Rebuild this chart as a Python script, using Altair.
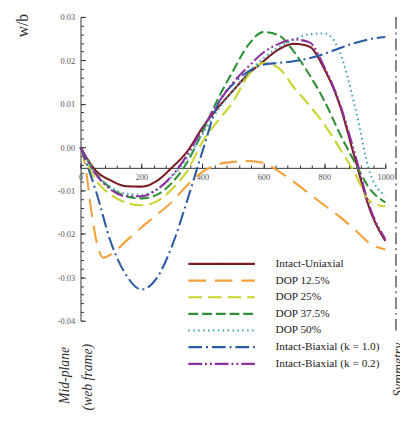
import altair as alt
import pandas as pd

# ---------------- data ----------------
series_names = [
    "Intact-Uniaxial",
    "DOP 12.5%",
    "DOP 25%",
    "DOP 37.5%",
    "DOP 50%",
    "Intact-Biaxial (k = 1.0)",
    "Intact-Biaxial (k = 0.2)",
]

x_main = [0, 50, 100, 150, 200, 250, 300, 350, 400, 450, 500,
          550, 600, 650, 700, 750, 800, 850, 900, 950, 1000]

x_dop125 = [0, 15, 35, 55, 75, 100, 150, 200, 250, 300, 350, 400, 450,
            500, 550, 600, 650, 700, 750, 800, 850, 900, 950, 1000]

w_uniaxial = [0, -0.0054, -0.0077, -0.0090, -0.0091, -0.0078, -0.0047, -0.0010,
              0.0045, 0.0090, 0.0130, 0.0168, 0.0198, 0.0225, 0.0238, 0.0232,
              0.0180, 0.0098, -0.0025, -0.0145, -0.0216]

w_dop125 = [0, -0.0040, -0.0145, -0.0225, -0.0255, -0.0247, -0.0216, -0.0185,
            -0.0156, -0.0126, -0.0088, -0.0057, -0.0040, -0.0034, -0.0032,
            -0.0036, -0.0056, -0.0080, -0.0107, -0.0134, -0.0160, -0.0190,
            -0.0222, -0.0236]

w_dop25 = [0, -0.0075, -0.0110, -0.0128, -0.0134, -0.0125, -0.0097, -0.0055,
           0.0012, 0.0060, 0.0104, 0.0165, 0.0194, 0.0182, 0.0138, 0.0097,
           0.0052, -0.0002, -0.0060, -0.0125, -0.0137]

w_dop375 = [0, -0.0060, -0.0095, -0.0113, -0.0118, -0.0110, -0.0082, -0.0035,
            0.0035, 0.0110, 0.0175, 0.0235, 0.0265, 0.0258, 0.0220, 0.0168,
            0.0107, 0.0032, -0.0035, -0.0097, -0.0127]

w_dop50 = [0, -0.0062, -0.0092, -0.0107, -0.0110, -0.0098, -0.0068, -0.0025,
           0.0030, 0.0085, 0.0130, 0.0170, 0.0205, 0.0230, 0.0248, 0.0260,
           0.0262, 0.0220, 0.0095, -0.0060, -0.0112]

w_biax10 = [0, -0.0100, -0.0220, -0.0295, -0.0328, -0.0302, -0.0228, -0.0123,
            -0.0010, 0.0098, 0.0145, 0.0174, 0.0190, 0.0194, 0.0198, 0.0205,
            0.0215, 0.0228, 0.0240, 0.0249, 0.0254]

w_biax02 = [0, -0.0062, -0.0098, -0.0113, -0.0113, -0.0098, -0.0066, -0.0018,
            0.0042, 0.0100, 0.0148, 0.0185, 0.0218, 0.0238, 0.0248, 0.0242,
            0.0185, 0.0102, -0.0015, -0.0140, -0.0212]

x_symmetry = 1035

x_major_ticks = [0, 200, 400, 600, 800, 1000]
y_major_ticks = [-0.04, -0.03, -0.02, -0.01, 0.0, 0.01, 0.02, 0.03]

# ---------------- styles ----------------
colors = ["#7a1c22", "#f5a03a", "#c9d42f", "#2f8f35", "#3aa0b5", "#2a5ba3", "#8e2f9c"]
dashes = [[1, 0], [18, 9], [14, 6], [10, 4], [1.5, 3.5], [14, 4, 2, 4], [14, 3, 2, 3, 2, 3]]

series_x = [x_main, x_dop125, x_main, x_main, x_main, x_main, x_main]
series_w = [w_uniaxial, w_dop125, w_dop25, w_dop375, w_dop50, w_biax10, w_biax02]

rows = []
for name, xs_, ws_ in zip(series_names, series_x, series_w):
    for xv, wv in zip(xs_, ws_):
        rows.append({"series": name, "x": xv, "w": wv})
df = pd.DataFrame(rows)

XS = alt.Scale(domain=[0, 1000], nice=False, zero=False)
YS = alt.Scale(domain=[-0.04, 0.03], nice=False, zero=False)

FONT = "Liberation Serif"
AX = "#333333"
LAB = "#555555"

x_major_axis = alt.Axis(
    orient="top", offset=-154, values=x_major_ticks, tickSize=5, tickColor=AX,
    domainColor=AX, domainWidth=1, labelFont=FONT, labelFontSize=8.5,
    labelColor=LAB, labelBaseline="top", labelPadding=-10, labelFlush=False,
    labelOverlap=False, grid=False, title=None, format="d",
)
y_major_axis = alt.Axis(
    orient="right", offset=-311, values=y_major_ticks, tickSize=5, tickColor=AX,
    domainColor=AX, domainWidth=1, labelFont=FONT, labelFontSize=8.5,
    labelColor=LAB, labelAlign="right", labelPadding=-11, labelFlush=False,
    labelOverlap=False, grid=False, title=None,
    labelExpr="replace(format(datum.value, '.2f'), '\u2212', '-')",
)
x_minor_axis = alt.Axis(
    orient="top", offset=-154, values=list(range(0, 1001, 40)), tickSize=3,
    tickColor=AX, domain=False, labels=False, grid=False, title=None,
)
y_minor_axis = alt.Axis(
    orient="right", offset=-311, values=[round(-0.04 + 0.002 * i, 3) for i in range(36)],
    tickSize=3, tickColor=AX, domain=False, labels=False, grid=False, title=None,
)

# long horizontal stroke symbol: path spans 12 units -> 6*sqrt(size) px
leg = alt.Legend(
    orient="none", legendX=137, legendY=245, title=None, symbolType="M-6,0H6",
    symbolSize=128, symbolStrokeWidth=2.2, labelFont=FONT, labelFontSize=11.5,
    labelColor="#222222", labelOffset=48, rowPadding=4, symbolOpacity=1,
)

lines = alt.Chart(df).mark_line(strokeWidth=2.1, interpolate="monotone").encode(
    x=alt.X("x:Q", scale=XS, axis=x_major_axis),
    y=alt.Y("w:Q", scale=YS, axis=y_major_axis),
    color=alt.Color("series:N", scale=alt.Scale(domain=series_names, range=colors), legend=leg),
    strokeDash=alt.StrokeDash("series:N", scale=alt.Scale(domain=series_names, range=dashes), legend=leg),
)

sym_df = pd.DataFrame({"x": [x_symmetry], "y": [0.03], "y2": [-0.043]})
symmetry = alt.Chart(sym_df).mark_rule(color="#444444", strokeWidth=1.3, strokeDash=[12, 4, 2, 4]).encode(
    x=alt.X("x:Q", scale=XS, axis=x_minor_axis),
    y=alt.Y("y:Q", scale=YS, axis=y_minor_axis),
    y2="y2:Q",
)

title_df = pd.DataFrame({"t": ["w/b"], "x": [-190], "y": [0.028]})
ytitle = alt.Chart(title_df).mark_text(
    angle=270, font=FONT, fontSize=16, color="#333333", baseline="middle", align="center"
).encode(
    x=alt.X("x:Q", scale=XS, axis=None), y=alt.Y("y:Q", scale=YS, axis=None), text="t:N"
)

note_df = pd.DataFrame({
    "t": ["Mid-plane", "(web frame)", "Symmetry"],
    "x": [-51, 26, 1046],
    "y": [-0.0526, -0.0530, -0.0513],
})
notes = alt.Chart(note_df).mark_text(
    angle=270, font=FONT, fontSize=14, fontStyle="italic", color="#333333",
    baseline="middle", align="center"
).encode(
    x=alt.X("x:Q", scale=XS, axis=None), y=alt.Y("y:Q", scale=YS, axis=None), text="t:N"
)

chart = alt.layer(lines, symmetry, ytitle, notes).resolve_axis(
    x="independent", y="independent"
).properties(
    width=311, height=310,
    autosize=alt.AutoSizeParams(type="none"),
    padding={"left": 74, "top": 5, "right": 15, "bottom": 89},
).configure_view(stroke=None)

chart.save("out.html", embed_options={"renderer": "svg", "actions": False})
